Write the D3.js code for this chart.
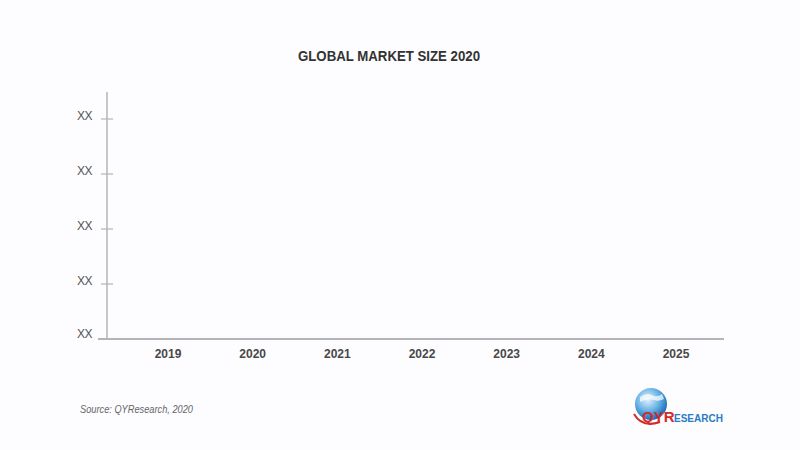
<!DOCTYPE html>
<html><head><meta charset="utf-8">
<script src="https://cdn.jsdelivr.net/npm/d3@7"></script>
<style>html,body{margin:0;padding:0;background:#fdfcfe;}</style>
</head><body>
<svg id="chart" width="800" height="450"></svg>
<script>
const title = "GLOBAL MARKET SIZE 2020";
const years = ["2019","2020","2021","2022","2023","2024","2025"];
const yTickValues = [0, 1, 2, 3, 4];
const yTickLabels = ["XX","XX","XX","XX","XX"];
const source = "Source: QYResearch, 2020";

const svg = d3.select("#chart");
svg.append("rect").attr("width",800).attr("height",450).attr("fill","#fdfcfe");

const x = d3.scalePoint().domain(years).range([168, 676]);
const y = d3.scaleLinear().domain([0, 4]).range([339, 119]);

svg.append("text").attr("x", 298).attr("y", 61)
  .attr("font-family","Liberation Sans, Arial, sans-serif").attr("font-weight","bold")
  .attr("font-size", 15).attr("fill","#333")
  .attr("textLength",182).attr("lengthAdjust","spacingAndGlyphs").text(title);

// y axis line
svg.append("line").attr("x1",107).attr("x2",107).attr("y1",92).attr("y2",339)
  .attr("stroke","#b4b4b8").attr("stroke-width",1.5);
// x axis line
svg.append("line").attr("x1",98).attr("x2",724).attr("y1",339).attr("y2",339)
  .attr("stroke","#b4b4b8").attr("stroke-width",2);

// y ticks
yTickValues.forEach((v,i)=>{
  if (v>0) svg.append("line").attr("x1",101).attr("x2",113).attr("y1",y(v)).attr("y2",y(v))
    .attr("stroke","#b4b4b8").attr("stroke-width",1.2);
  svg.append("text").attr("x",92).attr("y", v>0 ? y(v)-2 : y(v)-4).attr("text-anchor","end")
    .attr("dominant-baseline","middle")
    .attr("font-family","Liberation Sans, Arial, sans-serif").attr("font-size",12)
    .attr("letter-spacing","-0.5").attr("fill","#555").text(yTickLabels[i]);
});

// x labels
svg.selectAll("text.xl").data(years).enter().append("text").attr("class","xl")
  .attr("x", d=>x(d)).attr("y", 358).attr("text-anchor","middle")
  .attr("font-family","Liberation Sans, Arial, sans-serif").attr("font-weight","bold")
  .attr("font-size",12).attr("fill","#484848").text(d=>d);

svg.append("text").attr("x",80).attr("y",413)
  .attr("font-family","Liberation Sans, Arial, sans-serif").attr("font-style","italic")
  .attr("font-size",10.5).attr("fill","#666")
  .attr("textLength",113).attr("lengthAdjust","spacingAndGlyphs").text(source);

// logo
const defs = svg.append("defs");
const g = defs.append("radialGradient").attr("id","globe").attr("cx","40%").attr("cy","35%").attr("r","65%");
g.append("stop").attr("offset","0%").attr("stop-color","#e8f4fc");
g.append("stop").attr("offset","55%").attr("stop-color","#6ab4e6");
g.append("stop").attr("offset","100%").attr("stop-color","#1a6fb8");
svg.append("circle").attr("cx",651).attr("cy",404).attr("r",16).attr("fill","url(#globe)");
svg.append("path").attr("d","M640,397 q6,-5 12,-2 q5,3 10,-1 l2,5 q-6,3 -10,1 q-6,-2 -14,2 z").attr("fill","#ffffff").attr("opacity",0.7);
svg.append("path").attr("d","M634,414 q8,14 26,8").attr("fill","none").attr("stroke","#d42a2a").attr("stroke-width",2);
svg.append("text").attr("x",642).attr("y",422)
  .attr("font-family","Liberation Sans, Arial, sans-serif").attr("font-weight","bold")
  .attr("font-size",15).attr("fill","#d42a2a").text("QYR");
svg.append("text").attr("x",674).attr("y",422)
  .attr("font-family","Liberation Sans, Arial, sans-serif").attr("font-weight","bold")
  .attr("font-size",10).attr("fill","#2a7cc4").text("ESEARCH");
</script>
</body></html>
